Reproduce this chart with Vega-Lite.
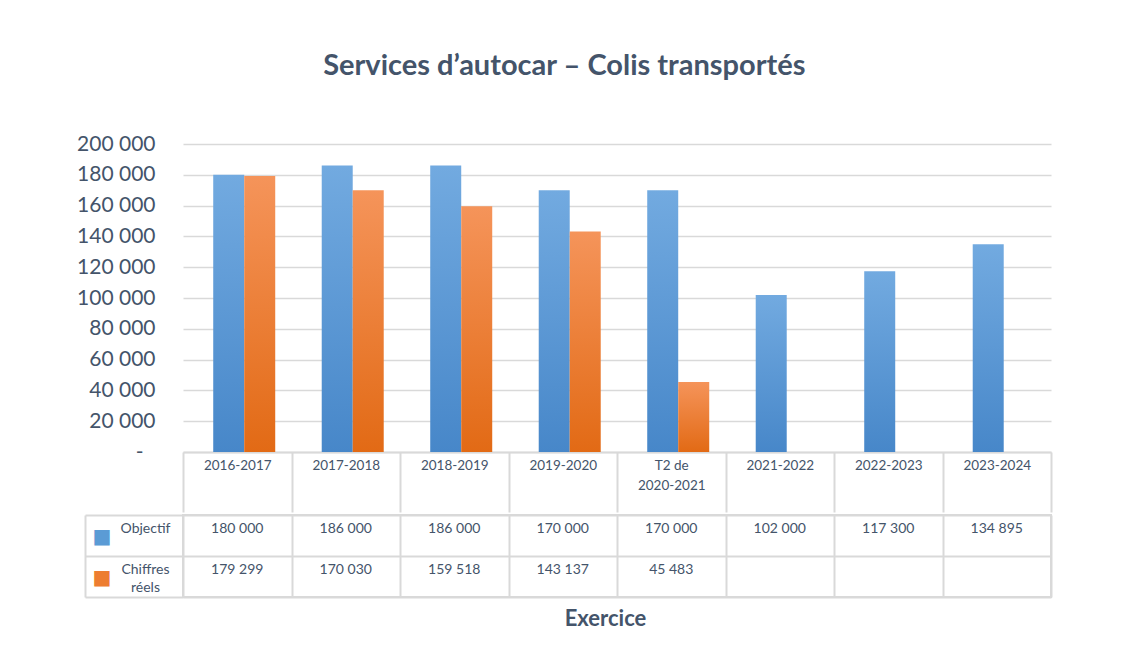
{
  "$schema": "https://vega.github.io/schema/vega-lite/v6.json",
  "padding": {"left": 76, "top": 52, "right": 10, "bottom": 10},
  "background": "white",
  "title": {"text": "Services d’autocar – Colis transportés", "fontSize": 29, "font": "Lato", "fontWeight": "bold", "color": "#44546a", "anchor": "middle", "offset": 52},
  "data": {"values": [
    {"exercice": "2016-2017", "serie": "Objectif", "valeur": 180000},
    {"exercice": "2017-2018", "serie": "Objectif", "valeur": 186000},
    {"exercice": "2018-2019", "serie": "Objectif", "valeur": 186000},
    {"exercice": "2019-2020", "serie": "Objectif", "valeur": 170000},
    {"exercice": "T2 de 2020-2021", "serie": "Objectif", "valeur": 170000},
    {"exercice": "2021-2022", "serie": "Objectif", "valeur": 102000},
    {"exercice": "2022-2023", "serie": "Objectif", "valeur": 117300},
    {"exercice": "2023-2024", "serie": "Objectif", "valeur": 134895},
    {"exercice": "2016-2017", "serie": "Chiffres réels", "valeur": 179299},
    {"exercice": "2017-2018", "serie": "Chiffres réels", "valeur": 170030},
    {"exercice": "2018-2019", "serie": "Chiffres réels", "valeur": 159518},
    {"exercice": "2019-2020", "serie": "Chiffres réels", "valeur": 143137},
    {"exercice": "T2 de 2020-2021", "serie": "Chiffres réels", "valeur": 45483},
    {"exercice": "2021-2022", "serie": "Chiffres réels", "valeur": null},
    {"exercice": "2022-2023", "serie": "Chiffres réels", "valeur": null},
    {"exercice": "2023-2024", "serie": "Chiffres réels", "valeur": null}
  ]},
  "spacing": 0,
  "vconcat": [
    {
      "width": 868,
      "height": 308,
      "view": {"stroke": null},
      "transform": [{"filter": "datum.valeur != null"}],
      "encoding": {
        "x": {"field": "exercice", "type": "nominal",
          "scale": {"domain": ["2016-2017", "2017-2018", "2018-2019", "2019-2020", "T2 de 2020-2021", "2021-2022", "2022-2023", "2023-2024"], "paddingInner": 0, "paddingOuter": 0},
          "axis": {"orient": "bottom", "title": null, "grid": false, "domain": true, "domainColor": "#d9d9d9", "domainWidth": 2,
            "ticks": true, "tickBand": "extent", "tickSize": 60, "tickColor": "#d9d9d9", "tickWidth": 2,
            "labelPadding": -54, "labelAngle": 0, "labelFontSize": 13.5, "labelColor": "#44546a", "labelBaseline": "top", "labelLineHeight": 20,
            "labelExpr": "datum.value == 'T2 de 2020-2021' ? ['T2 de', '2020-2021'] : datum.label"}},
        "xOffset": {"field": "serie", "type": "nominal",
          "scale": {"domain": ["Objectif", "Chiffres réels"], "paddingInner": 0, "paddingOuter": 0.75, "align": 0.65}},
        "y": {"field": "valeur", "type": "quantitative",
          "scale": {"domain": [0, 200000], "nice": false},
          "axis": {"title": null, "domain": false, "ticks": false, "grid": true, "gridColor": "#d9d9d9", "gridWidth": 1.5,
            "values": [0, 20000, 40000, 60000, 80000, 100000, 120000, 140000, 160000, 180000, 200000],
            "labelExpr": "datum.value == 0 ? '-' : (datum.value / 1000) + ' 000'",
            "labelPadding": {"condition": {"test": "datum.value == 0", "value": 40}, "value": 28},
            "labelFontSize": 21, "labelColor": "#44546a", "labelOverlap": false}}
      },
      "layer": [
        {"transform": [{"filter": "datum.serie == 'Objectif'"}],
         "mark": {"type": "bar", "color": {"gradient": "linear", "x1": 0, "y1": 0, "x2": 0, "y2": 1, "stops": [{"offset": 0, "color": "#72aae0"}, {"offset": 1, "color": "#4787c9"}]}}},
        {"transform": [{"filter": "datum.serie == 'Chiffres réels'"}],
         "mark": {"type": "bar", "color": {"gradient": "linear", "x1": 0, "y1": 0, "x2": 0, "y2": 1, "stops": [{"offset": 0, "color": "#f5945a"}, {"offset": 1, "color": "#e26a15"}]}}}
      ]
    },
    {
      "width": 868,
      "height": 82,
      "view": {"stroke": "#d9d9d9", "strokeWidth": 2},
      "transform": [{"filter": "datum.valeur != null"}],
      "encoding": {
        "x": {"field": "exercice", "type": "nominal",
          "scale": {"domain": ["2016-2017", "2017-2018", "2018-2019", "2019-2020", "T2 de 2020-2021", "2021-2022", "2022-2023", "2023-2024"], "paddingInner": 0, "paddingOuter": 0},
          "axis": {"orient": "bottom", "labels": false, "ticks": false, "domain": false, "grid": true, "tickBand": "extent", "gridColor": "#d9d9d9", "gridWidth": 2,
            "title": "Exercice", "titleFontSize": 22, "titleFontWeight": "bold", "titleColor": "#44546a", "titlePadding": 11, "titleX": 422, "titleAlign": "center"}}
      },
      "layer": [
        {"transform": [{"filter": "datum.serie == 'Objectif'"}],
         "mark": {"type": "text", "fontSize": 14, "color": "#44546a", "dy": -7},
         "encoding": {
           "y": {"field": "serie", "type": "nominal",
             "scale": {"domain": ["Objectif", "Chiffres réels"], "paddingInner": 0, "paddingOuter": 0},
             "axis": {"orient": "left", "title": null, "offset": 98, "domain": true, "domainColor": "#d9d9d9", "domainWidth": 2,
               "ticks": true, "tickSize": -98, "tickBand": "extent", "tickColor": "#d9d9d9", "tickWidth": 2,
               "grid": true, "gridColor": "#d9d9d9", "gridWidth": 2,
               "labelAlign": "center", "labelPadding": 38, "labelBaseline": "top", "labelOffset": -14, "labelLineHeight": 18,
               "labelFontSize": 14, "labelColor": "#44546a",
               "labelExpr": "datum.value == 'Chiffres réels' ? ['Chiffres', 'réels'] : datum.label"}},
           "text": {"field": "valeur", "type": "quantitative", "format": ","}
         }},
        {"transform": [{"filter": "datum.serie == 'Chiffres réels'"}],
         "mark": {"type": "text", "fontSize": 14, "color": "#44546a", "dy": -7},
         "encoding": {
           "y": {"field": "serie", "type": "nominal",
             "scale": {"domain": ["Objectif", "Chiffres réels"], "paddingInner": 0, "paddingOuter": 0},
             "axis": {"orient": "left", "title": null, "offset": 0, "domain": false, "ticks": false, "grid": false,
               "labelExpr": "'■'", "labelFont": "DejaVu Sans", "labelFontSize": 20,
               "labelColor": {"condition": {"test": "datum.value == 'Objectif'", "value": "#5b9bd5"}, "value": "#ed7d31"},
               "labelAlign": "left", "labelPadding": 91, "labelBaseline": "middle", "labelOffset": 1}},
           "text": {"field": "valeur", "type": "quantitative", "format": ","}
         }}
      ],
      "resolve": {"axis": {"y": "independent"}}
    }
  ],
  "config": {
    "font": "Lato",
    "locale": {"number": {"decimal": ",", "thousands": " ", "grouping": [3], "currency": ["", " €"]}}
  }
}
